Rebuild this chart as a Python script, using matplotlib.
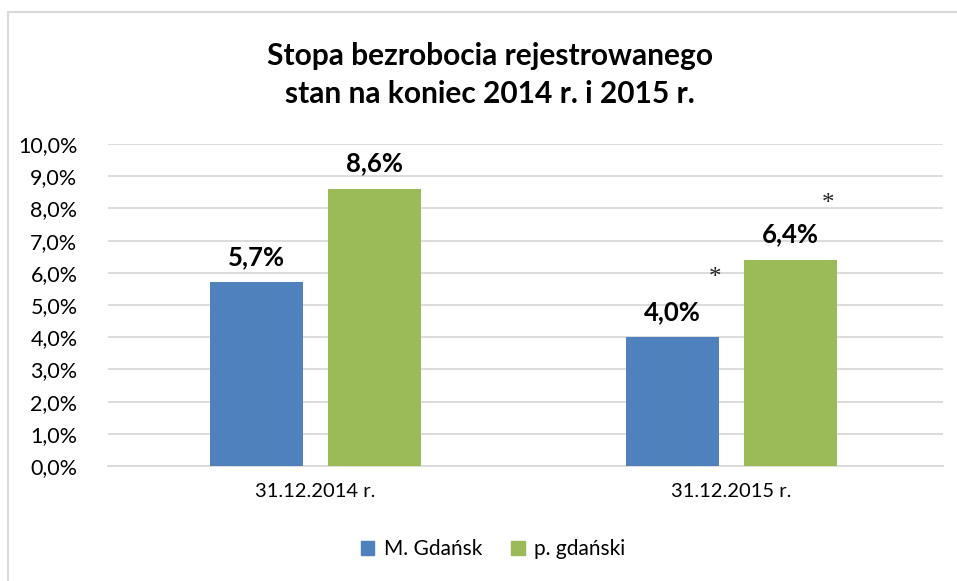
import matplotlib
matplotlib.use("Agg")
import matplotlib.pyplot as plt
import numpy as np
from matplotlib.patches import Rectangle, Patch

plt.rcParams['font.family'] = ['Lato', 'DejaVu Sans']

categories = ["31.12.2014 r.", "31.12.2015 r."]
series_names = ["M. Gdańsk", "p. gdański"]
gdansk = [5.7, 4.0]
powiat = [8.6, 6.4]
labels_gdansk = ["5,7%", "4,0%"]
labels_powiat = ["8,6%", "6,4%"]
asterisk_gdansk = [False, True]
asterisk_powiat = [False, True]
yticks = np.arange(0, 11, 1)
ytick_labels = [f"{v:.1f}".replace(".", ",") + "%" for v in yticks]

blue = "#4F81BD"
green = "#9BBB59"

fig = plt.figure(figsize=(9.57, 5.81), dpi=100)
fig.patches.append(Rectangle((8/957, -0.1), 1.2, (581-12)/581 + 0.1, transform=fig.transFigure,
                             fill=False, edgecolor="#D9D9D9", linewidth=1.5))
ax = fig.add_axes([108/957, 1-466/581, (943-108)/957, (466-144)/581])

x = np.arange(len(categories))
w = 0.2236
off = (w + 0.060) / 2
ax.bar(x - off, gdansk, w, color=blue, label=series_names[0], zorder=3)
ax.bar(x + off, powiat, w, color=green, label=series_names[1], zorder=3)

for i in range(len(categories)):
    ax.text(x[i] - off, gdansk[i] + 0.42, labels_gdansk[i], ha="center", va="bottom",
            fontsize=18.5, fontweight="bold", color="black")
    ax.text(x[i] + off, powiat[i] + 0.42, labels_powiat[i], ha="center", va="bottom",
            fontsize=18.5, fontweight="bold", color="black")
    if asterisk_gdansk[i]:
        ax.text(x[i] - off + 0.1025, gdansk[i] + 1.85, "*", ha="center", va="center",
                fontsize=18, family="Liberation Serif", color="#222222")
    if asterisk_powiat[i]:
        ax.text(x[i] + off + 0.09, powiat[i] + 1.75, "*", ha="center", va="center",
                fontsize=18, family="Liberation Serif", color="#222222")

ax.set_xlim(-0.4988, 1.5084)
ax.set_ylim(0, 10)
ax.set_yticks(yticks)
ax.set_yticklabels(ytick_labels, fontsize=15.5)
ax.set_xticks(x)
ax.set_xticklabels(categories, fontsize=14.5)
ax.tick_params(axis="y", length=0, pad=22)
ax.tick_params(axis="x", length=0, pad=12)
ax.grid(axis="y", color="#D9D9D9", linewidth=1.3, zorder=0)
for s in ["top", "right", "left"]:
    ax.spines[s].set_visible(False)
ax.spines["bottom"].set_color("#D9D9D9")
ax.spines["bottom"].set_linewidth(1.3)

fig.text(490/957, 1-75/581, "Stopa bezrobocia rejestrowanego\nstan na koniec 2014 r. i 2015 r.",
         ha="center", va="center", fontsize=21.5, fontweight="bold", linespacing=1.45)

handles = [Patch(color=blue), Patch(color=green)]
fig.legend(handles, series_names, loc="center", bbox_to_anchor=(493/957, 1-549/581), ncol=2,
           frameon=False, fontsize=15, handlelength=0.65, handleheight=0.65, columnspacing=1.4,
           handletextpad=0.45)

fig.savefig("out.png", dpi=100)
